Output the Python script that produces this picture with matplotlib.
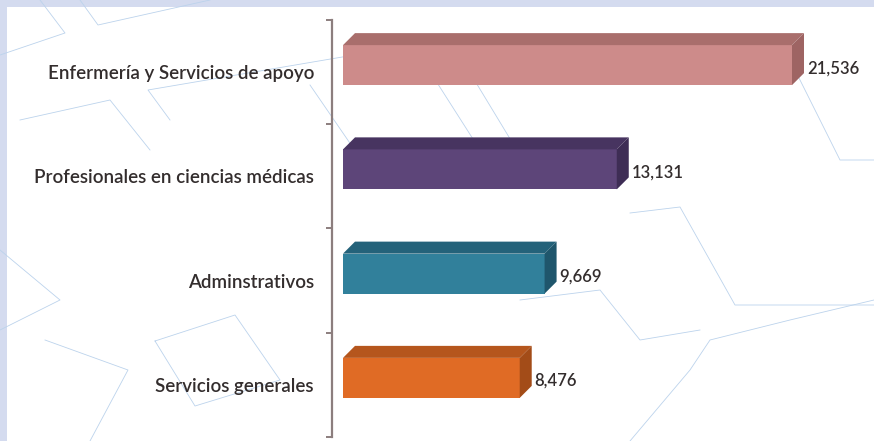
import numpy as np
import matplotlib.pyplot as plt
from matplotlib.patches import Polygon, Rectangle
from matplotlib.lines import Line2D

# personal por categoría
categorias = ['Enfermería y Servicios de apoyo', 'Profesionales en ciencias médicas',
              'Adminstrativos', 'Servicios generales']
valores = [21536, 13131, 9669, 8476]
etiquetas = ['21,536', '13,131', '9,669', '8,476']

# front, top and side face colours for each bar
frente = ['#CD8B8A', '#5D4579', '#31809B', '#E06B25']
arriba = ['#A96E6C', '#473460', '#24627A', '#B5561D']
lado = ['#9E6463', '#3E2D55', '#1F566C', '#A34C18']

W, H = 874, 441
fig = plt.figure(figsize=(W / 100, H / 100), dpi=100)
fig.patch.set_facecolor('#D4DBEF')
fig.patches.append(Rectangle((7 / W, 0), 1, 1 - 7 / H, transform=fig.transFigure,
                             facecolor='white', edgecolor='none', zorder=-10))

# faint background pattern
pattern = [
    [(40, 0), (65, 33), (0, 55)],
    [(80, 0), (98, 25), (210, 0)],
    [(170, 120), (148, 90), (413, 45), (480, 150), (367, 168), (310, 85)],
    [(452, 43), (578, 40), (620, 75)],
    [(452, 43), (515, 147), (610, 143)],
    [(790, 60), (840, 160), (874, 160)],
    [(630, 213), (680, 207), (735, 305), (874, 305)],
    [(0, 250), (60, 300), (0, 330)],
    [(45, 340), (128, 370), (90, 441)],
    [(155, 341), (235, 315), (280, 380), (195, 406), (155, 341)],
    [(630, 441), (690, 370), (710, 340), (790, 320), (874, 300)],
    [(520, 300), (600, 290), (640, 340), (700, 330)],
    [(20, 120), (110, 100), (150, 150)],
]
for pts in pattern:
    xs = [p[0] / W for p in pts]
    ys = [1 - p[1] / H for p in pts]
    fig.add_artist(Line2D(xs, ys, color='#BCD3EC', lw=0.6, zorder=-5))

ax = fig.add_axes([332 / W, 1 - 437 / H, 530 / W, 417 / H])
ax.patch.set_alpha(0)

px_x = 449 / 21536          # pixels per unit along x
x0 = -11 / px_x
ax.set_xlim(x0, x0 + 530 / px_x)
ax.set_ylim(len(valores) - 0.5, -0.5)
px_y = 417 / len(valores)

h = 40 / px_y               # front face height
off = -7 / px_y             # front face offset from slot centre
ddx = 12 / px_x             # depth
ddy = 12 / px_y

for i, v in enumerate(valores):
    c = i + off
    y_top, y_bot = c - h / 2, c + h / 2
    ax.barh(c, v, height=h, left=0, color=frente[i], edgecolor='none', zorder=3)
    ax.add_patch(Polygon([(0, y_top), (v, y_top), (v + ddx, y_top - ddy), (ddx, y_top - ddy)],
                         closed=True, facecolor=arriba[i], edgecolor='none', zorder=3))
    ax.add_patch(Polygon([(v, y_top), (v + ddx, y_top - ddy), (v + ddx, y_bot - ddy), (v, y_bot)],
                         closed=True, facecolor=lado[i], edgecolor='none', zorder=3))
    ax.text(v + ddx + 3 / px_x, c + 3 / px_y, etiquetas[i], va='center', ha='left',
            fontsize=12, color='#332D2D', family='Lato', fontweight='semibold')

for s in ['top', 'right', 'bottom']:
    ax.spines[s].set_visible(False)
ax.spines['left'].set_color('#8C7E7E')
ax.spines['left'].set_linewidth(1.6)
ax.set_xticks([])
ax.set_yticks(range(len(categorias)))
ax.set_yticklabels(categorias, fontsize=13.5, color='#332D2D', family='Lato',
                   fontweight='semibold')
ax.tick_params(axis='y', which='major', length=0, pad=13)
ax.set_yticks(np.arange(-0.5, len(categorias)), minor=True)
ax.tick_params(axis='y', which='minor', length=4, width=1.4, color='#8C7E7E')

fig.savefig('out.png', dpi=100)
